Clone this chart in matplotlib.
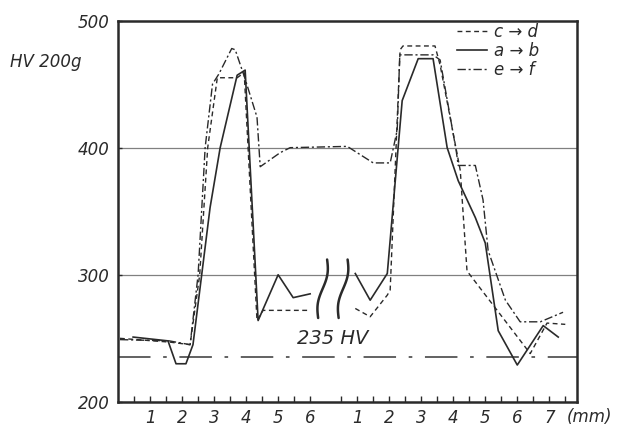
import numpy as np
import matplotlib
matplotlib.use('Agg')
import matplotlib.pyplot as plt
from matplotlib.lines import Line2D

plt.rcParams['font.family'] = ['DejaVu Sans']
plt.rcParams['font.style'] = 'italic'

# x positions along the chart (mm); second traverse starts at SECOND
SECOND = 6.47
XMAX = 14.34

# a -> b (solid), nan = break between traverses
ab_x = [0.47, 1.56, 1.81, 2.12, 2.34, 2.875, 3.19, 3.72, 3.97, 4.375, 5.0, 5.47, 6.0, np.nan,
        7.41, 7.875, 8.41, 8.875, 9.375, 9.84, 10.28, 10.625, 11.16, 11.47, 11.875, 12.47, 13.28, 13.75]
ab_hv = [251, 248, 230, 230, 245, 353, 400, 457, 461, 264, 300, 282, 285, np.nan,
         301, 280, 301, 437, 470, 470, 400, 374, 345, 325, 256, 229, 260, 251]

# c -> d (dashed)
cd_x = [0.06, 1.63, 2.25, 2.55, 2.8, 3.1, 3.72, 3.94, 4.34, 4.53, 5.94, np.nan,
        7.41, 7.875, 8.41, 8.5, 8.81, 8.9, 9.9, 10.06, 10.69, 10.75, 10.9, 12.875, 13.4, 13.97]
cd_hv = [250, 247, 245, 300, 400, 455, 455, 459, 264, 272, 272, np.nan,
         273.5, 267, 284, 288, 477, 480, 480, 465, 382, 359, 303, 238, 262, 261]

# e -> f (dash-dot), continuous across the break
ef_x = [0.06, 1.6, 2.25, 2.5, 2.72, 2.95, 3.15, 3.55, 3.66, 3.97, 4.34, 4.44, 5.06, 5.375,
        7.16, 7.97, 8.5, 8.72, 8.8, 9.84, 10.06, 10.56, 10.625, 11.16, 11.4, 11.56, 12.1, 12.56, 13.19, 13.9]
ef_hv = [249, 248, 245, 300, 400, 450, 458, 478, 477, 454, 424, 385, 396, 400,
         401, 388, 388, 414, 473, 473, 469, 398, 386, 386, 359, 319, 280, 263, 263, 270.5]

limit_hv = 235
y_ticks = [200, 300, 400, 500]
first_labels = ['1', '2', '3', '4', '5', '6']
second_labels = ['1', '2', '3', '4', '5', '6', '7']

ink = '#2a2a2a'

fig = plt.figure(figsize=(6.28, 4.28), dpi=100)
ax = fig.add_axes([0.188, 0.061, 0.731, 0.891])

ax.axhline(300, color='#808080', lw=0.9, zorder=1)
ax.axhline(400, color='#808080', lw=0.9, zorder=1)
ax.axhline(limit_hv, color='#555555', lw=1.3, ls=(0, (18, 7, 2, 7)), zorder=1)
ax.text(5.6, 250, '235 HV', fontsize=14, color=ink, va='center', ha='left')

ax.plot(cd_x, cd_hv, color=ink, lw=1.0, ls=(0, (3.5, 2.5)))
ax.plot(ab_x, ab_hv, color=ink, lw=1.2, ls='-')
ax.plot(ef_x, ef_hv, color=ink, lw=1.0, ls=(0, (6, 2, 1.5, 2)))

# break marks between the two traverses
t = np.linspace(0, 1, 60)
for xc in (6.39, 7.03):
    bx = xc + 0.28 * (t - 0.5) - 0.08 * np.sin(2 * np.pi * t)
    by = 266 + 46 * t
    ax.plot(bx, by, color=ink, lw=1.8, solid_capstyle='round')

ax.set_xlim(0, XMAX)
ax.set_ylim(200, 500)

major = list(range(1, 7)) + [SECOND + k for k in range(1, 8)]
minor = [k * 0.5 for k in range(1, 13)] + [SECOND + k * 0.5 for k in range(1, 16)]
ax.set_xticks(major)
ax.set_xticklabels(first_labels + second_labels, fontsize=12, color=ink)
ax.set_xticks(minor, minor=True)
ax.tick_params(axis='x', which='both', direction='in', length=4, width=1, color=ink, pad=5)
ax.set_yticks(y_ticks)
ax.set_yticklabels([str(v) for v in y_ticks], fontsize=12, color=ink)
ax.tick_params(axis='y', direction='in', length=3, width=1, color=ink, pad=6)

for s in ax.spines.values():
    s.set_linewidth(1.8)
    s.set_color(ink)

ax.text(14.0, -0.04, '(mm)', transform=ax.get_xaxis_transform(), fontsize=12,
        color=ink, va='center', ha='left', clip_on=False)
fig.text(10 / 628, 1 - 62 / 428, 'HV 200g', fontsize=12, color=ink, va='center', ha='left')

handles = [Line2D([], [], color=ink, lw=1.0, ls=(0, (3.5, 2.5))),
           Line2D([], [], color=ink, lw=1.2, ls='-'),
           Line2D([], [], color=ink, lw=1.0, ls=(0, (6, 2, 1.5, 2)))]
ax.legend(handles, ['c → d', 'a → b', 'e → f'], loc='upper left', bbox_to_anchor=(0.72, 1.015),
          frameon=False, fontsize=12, handlelength=1.8, handletextpad=0.4,
          borderpad=0, labelspacing=0.05, labelcolor=ink)

fig.savefig('out.png', dpi=100, facecolor='white')
